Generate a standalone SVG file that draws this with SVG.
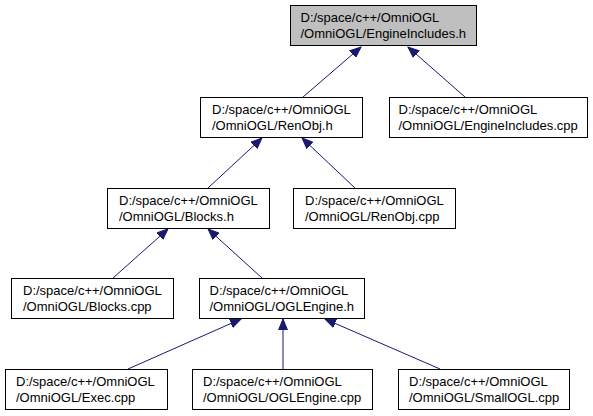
<svg xmlns="http://www.w3.org/2000/svg" width="593" height="416" viewBox="0 0 593 416">
<style>
.box{fill:#ffffff;stroke:#000000;stroke-width:1}
.root{fill:#bfbfbf}
text{font-family:"Liberation Sans",Arial,sans-serif;font-size:13px;fill:#000000}
.edge{stroke:#191970;stroke-width:1;fill:none;marker-end:url(#ah)}
</style>
<defs>
<marker id="ah" markerUnits="userSpaceOnUse" markerWidth="12" markerHeight="10" refX="11" refY="5" orient="auto">
<path d="M0,0.5 L11,5 L0,9.5 Z" fill="#191970" stroke="#191970" stroke-width="1"/>
</marker>
</defs>
<g id="connectors">
<line class="edge" x1="303" y1="97" x2="361" y2="47"/>
<line class="edge" x1="465" y1="97" x2="408" y2="47"/>
<line class="edge" x1="208" y1="188" x2="262" y2="138"/>
<line class="edge" x1="355" y1="188" x2="302" y2="138"/>
<line class="edge" x1="113" y1="278" x2="168" y2="229"/>
<line class="edge" x1="262" y1="278" x2="208" y2="229"/>
<line class="edge" x1="128" y1="369" x2="241" y2="319"/>
<line class="edge" x1="283" y1="369" x2="283" y2="319"/>
<line class="edge" x1="440" y1="369" x2="325" y2="319"/>
</g>
<g id="node-engineincludes-h">
<rect class="box root" x="290.5" y="5.5" width="186" height="40"/>
<text x="300.5" y="22">D:/space/c++/OmniOGL</text>
<text x="300.5" y="38">/OmniOGL/EngineIncludes.h</text>
</g>
<g id="node-renobj-h">
<rect class="box" x="200.5" y="97.5" width="162" height="40"/>
<text x="212" y="114">D:/space/c++/OmniOGL</text>
<text x="212" y="130">/OmniOGL/RenObj.h</text>
</g>
<g id="node-engineincludes-cpp">
<rect class="box" x="389.5" y="97.5" width="198" height="40"/>
<text x="398.5" y="114">D:/space/c++/OmniOGL</text>
<text x="398.5" y="130">/OmniOGL/EngineIncludes.cpp</text>
</g>
<g id="node-blocks-h">
<rect class="box" x="107.5" y="188.5" width="162" height="40"/>
<text x="119" y="205">D:/space/c++/OmniOGL</text>
<text x="119" y="221">/OmniOGL/Blocks.h</text>
</g>
<g id="node-renobj-cpp">
<rect class="box" x="293.5" y="188.5" width="162" height="40"/>
<text x="305" y="205">D:/space/c++/OmniOGL</text>
<text x="305" y="221">/OmniOGL/RenObj.cpp</text>
</g>
<g id="node-blocks-cpp">
<rect class="box" x="11.5" y="278.5" width="162" height="40"/>
<text x="23" y="295">D:/space/c++/OmniOGL</text>
<text x="23" y="311">/OmniOGL/Blocks.cpp</text>
</g>
<g id="node-oglengine-h">
<rect class="box" x="199.5" y="278.5" width="165" height="40"/>
<text x="209.5" y="295">D:/space/c++/OmniOGL</text>
<text x="209.5" y="311">/OmniOGL/OGLEngine.h</text>
</g>
<g id="node-exec-cpp">
<rect class="box" x="5.5" y="369.5" width="162" height="40"/>
<text x="16" y="386">D:/space/c++/OmniOGL</text>
<text x="16" y="402">/OmniOGL/Exec.cpp</text>
</g>
<g id="node-oglengine-cpp">
<rect class="box" x="192.5" y="369.5" width="180" height="40"/>
<text x="203" y="386">D:/space/c++/OmniOGL</text>
<text x="203" y="402">/OmniOGL/OGLEngine.cpp</text>
</g>
<g id="node-smallogl-cpp">
<rect class="box" x="398.5" y="369.5" width="171" height="40"/>
<text x="409" y="386">D:/space/c++/OmniOGL</text>
<text x="409" y="402">/OmniOGL/SmallOGL.cpp</text>
</g>
</svg>
